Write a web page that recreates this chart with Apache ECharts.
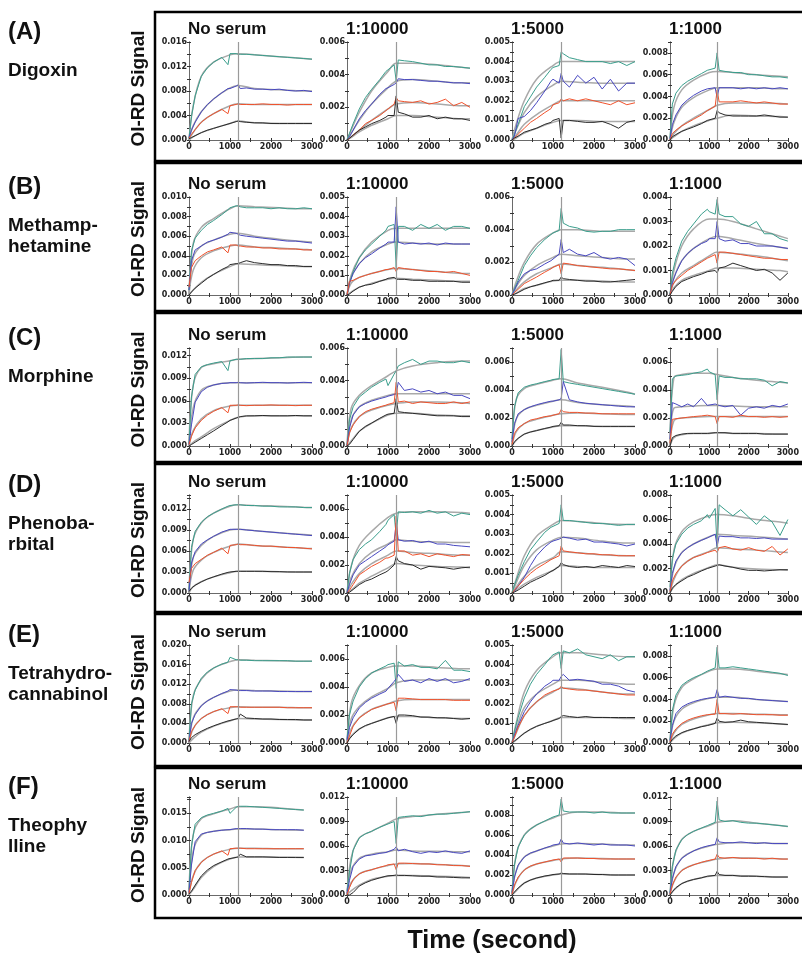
<!DOCTYPE html>
<html>
<head>
<meta charset="utf-8">
<script src="https://cdn.jsdelivr.net/npm/echarts@6/dist/echarts.min.js"></script>
<style>
html, body { margin: 0; padding: 0; background: #fff; }
#main { width: 802px; height: 954px; }
</style>
</head>
<body>
<div id="main"></div>
<script>
// time points (s) of the measured traces and of the fitted curves
var timeData = [0, 60, 150, 300, 450, 600, 800, 950, 1000, 1150, 1200, 1250, 1400, 1600, 1800, 2000, 2200, 2400, 2600, 2800, 3000];
var timeFit = [0, 100, 300, 600, 1000, 1200, 1600, 2200, 2800, 3000];

var dilutions = ['No serum', '1:10000', '1:5000', '1:1000'];
var letters = ['(A)', '(B)', '(C)', '(D)', '(E)', '(F)'];
var drugNames = [['Digoxin'], ['Methamp-', 'hetamine'], ['Morphine'], ['Phenoba-', 'rbital'], ['Tetrahydro-', 'cannabinol'], ['Theophy', 'lline']];

// y range per panel, in units of 0.001
var yMax = [[16, 6, 5, 9], [10, 5, 6, 4], [13, 6, 7, 7], [14, 7, 5, 8], [20, 7, 5, 9], [18, 12, 9.8, 12]];
var yStep = [[4, 2, 1, 2], [2, 1, 2, 1], [3, 2, 2, 2], [3, 2, 1, 2], [4, 2, 1, 2], [5, 3, 2, 3]];

// signal x 1000, order: teal, blue, red, black
var A1 = [
  [0.3, 3.8, 7.2, 10.4, 11.8, 12.7, 13.5, 12.3, 14.1, 14.1, 14.0, 14.0, 14.0, 13.9, 13.8, 13.7, 13.6, 13.5, 13.4, 13.3, 13.2],
  [0.4, 1.6, 2.9, 4.6, 5.8, 6.7, 7.7, 8.4, 8.4, 8.8, 9.0, 8.4, 8.5, 8.3, 8.3, 8.2, 8.3, 8.1, 8.0, 8.1, 7.9],
  [0.3, 0.9, 1.7, 2.9, 3.7, 4.3, 5.0, 4.3, 5.6, 5.8, 5.9, 5.8, 5.8, 5.8, 5.9, 5.8, 5.8, 5.7, 5.8, 5.8, 5.8],
  [0.2, 0.4, 0.7, 1.2, 1.6, 1.9, 2.3, 2.6, 2.7, 3.0, 3.1, 3.0, 2.9, 2.8, 2.8, 2.7, 2.7, 2.7, 2.7, 2.7, 2.7]
];
var A1fit = [
  [0, 5.5, 10.4, 12.7, 13.9, 14.1, 13.9, 13.6, 13.3, 13.2],
  [0, 2.3, 4.6, 6.7, 8.5, 8.9, 8.4, 8.2, 8.0, 8.0],
  [0, 1.2, 2.9, 4.3, 5.6, 5.9, 5.8, 5.8, 5.8, 5.8],
  [0, 0.5, 1.2, 1.9, 2.7, 3.1, 2.8, 2.7, 2.7, 2.7]
];
var A2 = [
  [0, 0.4, 1.0, 1.9, 2.6, 3.1, 3.7, 4.2, 4.3, 4.6, 3.6, 4.9, 4.85, 4.8, 4.7, 4.6, 4.6, 4.5, 4.5, 4.45, 4.4],
  [0, 0.2, 0.6, 1.3, 1.8, 2.2, 2.8, 3.15, 3.2, 3.4, 3.5, 3.75, 3.7, 3.7, 3.65, 3.6, 3.6, 3.55, 3.5, 3.5, 3.45],
  [0, 0.1, 0.3, 0.6, 1.0, 1.2, 1.5, 1.8, 1.9, 2.2, 2.6, 2.4, 2.35, 2.3, 2.4, 2.2, 2.3, 2.5, 2.1, 2.3, 2.0],
  [0, 0.1, 0.3, 0.6, 0.8, 1.0, 1.2, 1.4, 1.5, 1.5, 2.7, 1.7, 1.6, 1.4, 1.4, 1.5, 1.3, 1.4, 1.3, 1.3, 1.2]
];
var A2fit = [
  [0, 0.6, 1.7, 3.0, 4.2, 4.7, 4.7, 4.6, 4.45, 4.4],
  [0, 0.4, 1.2, 2.2, 3.2, 3.6, 3.7, 3.6, 3.5, 3.5],
  [0, 0.2, 0.6, 1.2, 1.9, 2.2, 2.3, 2.2, 2.1, 2.1],
  [0, 0.15, 0.5, 0.9, 1.3, 1.5, 1.5, 1.4, 1.3, 1.3]
];
var A3 = [
  [0, 0.3, 0.8, 1.7, 2.2, 2.7, 3.2, 3.6, 3.7, 3.8, 4.5, 4.4, 4.2, 4.1, 4.0, 4.0, 4.0, 3.9, 4.0, 3.8, 4.0],
  [0, 0.2, 1.1, 1.2, 1.5, 1.9, 2.5, 3.0, 3.1, 2.9, 3.4, 3.0, 2.7, 3.3, 2.9, 3.2, 2.6, 3.1, 2.5, 2.9, 2.9],
  [0, 0.1, 0.3, 0.6, 0.9, 1.1, 1.4, 1.6, 1.8, 1.9, 2.1, 2.0, 2.1, 2.0, 2.1, 2.0, 1.9, 1.8, 2.0, 1.8, 1.9],
  [0, 0.1, 0.2, 0.4, 0.5, 0.6, 0.8, 0.9, 1.0, 1.1, 0.1, 1.0, 1.0, 0.95, 0.9, 0.9, 0.95, 0.8, 0.6, 0.9, 1.0]
];
var A3fit = [
  [0, 0.8, 2.0, 3.1, 3.8, 4.0, 4.0, 4.0, 4.0, 4.0],
  [0, 0.5, 1.4, 2.2, 2.8, 3.0, 2.95, 2.9, 2.9, 2.9],
  [0, 0.25, 0.8, 1.3, 1.8, 2.0, 2.0, 2.0, 2.0, 2.0],
  [0, 0.1, 0.35, 0.6, 0.9, 1.0, 1.0, 0.95, 0.95, 0.95]
];
var A4 = [
  [0.2, 3.3, 4.3, 5.0, 5.4, 5.7, 6.1, 6.4, 6.5, 6.6, 8.0, 6.4, 6.3, 6.2, 6.2, 6.0, 6.0, 5.9, 5.8, 5.8, 5.7],
  [0.1, 1.4, 2.3, 3.2, 3.7, 4.1, 4.5, 4.7, 4.8, 4.8, 3.9, 4.8, 4.8, 4.8, 4.7, 4.8, 4.7, 4.8, 4.7, 4.8, 4.7],
  [0, 0.6, 0.9, 1.3, 1.6, 1.9, 2.3, 2.7, 2.8, 3.1, 4.6, 3.5, 3.5, 3.5, 3.6, 3.5, 3.4, 3.5, 3.4, 3.3, 3.3],
  [0, 0.3, 0.5, 0.8, 1.0, 1.2, 1.5, 1.8, 1.9, 2.0, 2.7, 2.5, 2.3, 2.2, 2.2, 2.2, 2.2, 2.3, 2.2, 2.1, 2.1]
];
var A4fit = [
  [0, 3.0, 4.6, 5.5, 6.2, 6.3, 6.2, 6.0, 5.85, 5.8],
  [0, 1.6, 3.0, 3.9, 4.6, 4.8, 4.8, 4.8, 4.7, 4.7],
  [0, 0.6, 1.3, 2.0, 2.8, 3.2, 3.4, 3.4, 3.35, 3.3],
  [0, 0.3, 0.8, 1.3, 1.8, 2.0, 2.3, 2.2, 2.15, 2.1]
];

var B1 = [
  [0.5, 4.5, 5.8, 6.6, 7.2, 7.6, 8.2, 8.7, 8.9, 9.1, 9.1, 9.0, 8.9, 8.9, 8.9, 8.8, 8.9, 8.8, 8.8, 8.9, 8.8],
  [0.5, 3.5, 4.6, 5.0, 5.4, 5.6, 5.9, 6.2, 6.4, 6.3, 6.2, 6.1, 6.0, 5.9, 5.8, 5.7, 5.6, 5.5, 5.5, 5.4, 5.3],
  [0.8, 2.8, 3.5, 4.0, 4.4, 4.6, 4.9, 4.3, 5.1, 5.1, 5.0, 5.0, 4.9, 4.9, 4.8, 4.8, 4.7, 4.7, 4.7, 4.6, 4.6],
  [0, 0.3, 0.7, 1.2, 1.7, 2.1, 2.6, 2.9, 3.1, 3.2, 3.2, 3.3, 3.5, 3.3, 3.2, 3.1, 3.1, 3.0, 3.0, 2.9, 2.9]
];
var B1fit = [
  [0, 5.2, 6.9, 7.8, 8.8, 9.1, 9.0, 8.9, 8.8, 8.8],
  [0, 3.8, 5.0, 5.6, 6.2, 6.3, 6.0, 5.7, 5.45, 5.4],
  [0, 2.5, 3.8, 4.5, 5.0, 5.1, 4.9, 4.8, 4.65, 4.6],
  [0, 0.5, 1.3, 2.1, 2.9, 3.2, 3.1, 3.0, 2.9, 2.9]
];
var B2 = [
  [0, 0.6, 1.2, 1.9, 2.3, 2.6, 3.0, 3.3, 3.5, 3.6, 1.4, 3.5, 3.5, 3.3, 3.6, 3.4, 3.6, 3.3, 3.5, 3.5, 3.4],
  [0, 0.6, 1.1, 1.6, 1.9, 2.1, 2.4, 2.6, 2.7, 2.7, 4.5, 2.7, 2.6, 2.65, 2.6, 2.65, 2.55, 2.65, 2.6, 2.6, 2.6],
  [0, 0.7, 0.75, 0.9, 1.0, 1.1, 1.2, 1.3, 1.3, 1.4, 1.2, 1.4, 1.35, 1.3, 1.25, 1.2, 1.2, 1.15, 1.2, 1.1, 1.0],
  [0, 0.05, 0.2, 0.4, 0.5, 0.55, 0.7, 0.8, 0.85, 0.9, 0.8, 0.8, 0.8, 0.75, 0.75, 0.7, 0.7, 0.7, 0.7, 0.65, 0.65]
];
var B2fit = [
  [0, 1.0, 1.9, 2.7, 3.3, 3.4, 3.4, 3.4, 3.4, 3.4],
  [0, 0.9, 1.6, 2.2, 2.6, 2.7, 2.65, 2.6, 2.6, 2.6],
  [0, 0.6, 0.9, 1.1, 1.3, 1.35, 1.3, 1.2, 1.1, 1.1],
  [0, 0.15, 0.4, 0.6, 0.8, 0.85, 0.8, 0.75, 0.7, 0.7]
];
var B3 = [
  [0, 0.4, 0.9, 1.8, 2.4, 2.9, 3.4, 3.7, 3.8, 3.95, 5.3, 4.4, 4.2, 4.1, 3.9, 3.85, 3.9, 3.9, 4.0, 4.0, 4.0],
  [0, 0.3, 0.8, 1.3, 1.5, 1.6, 1.9, 2.1, 2.2, 2.5, 3.4, 2.6, 2.8, 2.5, 2.4, 2.6, 2.3, 2.2, 2.3, 2.2, 1.8],
  [0, 0.15, 0.35, 0.7, 0.9, 1.1, 1.4, 1.6, 1.7, 1.85, 1.3, 1.95, 1.9, 1.8, 1.75, 1.7, 1.65, 1.6, 1.6, 1.55, 1.5],
  [0, 0.05, 0.15, 0.35, 0.5, 0.6, 0.75, 0.85, 0.9, 0.9, 1.1, 1.0, 0.95, 0.9, 0.85, 0.85, 0.8, 0.8, 0.85, 0.9, 0.95]
];
var B3fit = [
  [0, 0.8, 2.0, 3.1, 3.8, 4.0, 4.0, 3.9, 3.9, 3.9],
  [0, 0.5, 1.2, 1.8, 2.3, 2.5, 2.4, 2.3, 2.2, 2.2],
  [0, 0.3, 0.8, 1.3, 1.7, 1.9, 1.8, 1.7, 1.55, 1.5],
  [0, 0.1, 0.4, 0.6, 0.85, 0.9, 0.9, 0.85, 0.8, 0.8]
];
var B4 = [
  [0, 0.9, 1.5, 2.2, 2.6, 2.9, 3.3, 3.5, 3.4, 3.3, 3.9, 3.3, 3.2, 3.2, 2.9, 2.8, 3.0, 2.5, 2.5, 2.3, 2.2],
  [0, 0.5, 0.9, 1.4, 1.7, 1.9, 2.1, 2.2, 2.3, 2.3, 3.0, 2.3, 2.2, 2.25, 2.1, 2.1, 2.0, 2.0, 2.0, 1.95, 1.9],
  [0, 0.4, 0.6, 0.8, 1.0, 1.15, 1.35, 1.5, 1.55, 1.65, 1.3, 1.75, 1.75, 1.7, 1.65, 1.6, 1.55, 1.5, 1.5, 1.45, 1.45],
  [0, 0.15, 0.35, 0.55, 0.65, 0.75, 0.85, 0.95, 1.0, 1.0, 0.9, 1.1, 1.15, 1.3, 1.2, 1.1, 1.0, 1.05, 0.9, 0.6, 0.9]
];
var B4fit = [
  [0, 1.0, 2.0, 2.7, 3.1, 3.1, 3.0, 2.7, 2.4, 2.3],
  [0, 0.7, 1.4, 1.9, 2.3, 2.4, 2.3, 2.1, 1.95, 1.9],
  [0, 0.5, 0.9, 1.2, 1.6, 1.75, 1.7, 1.6, 1.45, 1.4],
  [0, 0.3, 0.6, 0.8, 1.0, 1.1, 1.1, 1.05, 1.0, 0.95]
];

var C1 = [
  [0.3, 6.5, 9.5, 10.5, 10.8, 11.0, 11.2, 10.0, 11.3, 11.5, 11.5, 11.5, 11.6, 11.6, 11.6, 11.7, 11.7, 11.8, 11.8, 11.8, 11.8],
  [0.2, 2.8, 5.8, 7.2, 7.8, 8.1, 8.3, 8.35, 8.4, 8.4, 8.45, 8.4, 8.35, 8.4, 8.45, 8.4, 8.4, 8.35, 8.4, 8.45, 8.4],
  [0.2, 1.3, 2.4, 3.4, 4.1, 4.6, 5.1, 4.4, 5.4, 5.4, 5.45, 5.4, 5.35, 5.4, 5.4, 5.45, 5.4, 5.4, 5.35, 5.4, 5.4],
  [0, 0.2, 0.5, 1.0, 1.5, 2.0, 2.7, 3.2, 3.4, 3.7, 3.8, 3.9, 4.0, 4.0, 4.05, 4.0, 4.0, 4.0, 4.05, 4.0, 4.0]
];
var C1fit = [
  [0, 8.0, 10.4, 10.9, 11.3, 11.5, 11.6, 11.7, 11.8, 11.8],
  [0, 5.0, 7.4, 8.1, 8.4, 8.4, 8.4, 8.4, 8.4, 8.4],
  [0, 2.0, 3.6, 4.7, 5.3, 5.4, 5.4, 5.4, 5.4, 5.4],
  [0, 0.5, 1.2, 2.3, 3.4, 3.8, 4.0, 4.0, 4.0, 4.0]
];
var C2 = [
  [0, 1.6, 2.4, 3.0, 3.3, 3.6, 3.9, 4.1, 3.7, 4.4, 4.6, 4.9, 5.1, 5.3, 5.0, 5.2, 5.2, 5.1, 5.1, 5.2, 5.1],
  [0, 1.1, 1.9, 2.4, 2.6, 2.75, 2.9, 3.0, 3.05, 3.15, 3.2, 3.9, 3.4, 3.5, 3.3, 3.4, 3.2, 3.3, 3.1, 3.1, 2.9],
  [0, 0.8, 1.3, 1.8, 2.1, 2.25, 2.4, 2.5, 2.55, 2.65, 3.9, 2.7, 2.75, 2.6, 2.7, 2.65, 2.6, 2.6, 2.7, 2.6, 2.7],
  [0, 0.1, 0.4, 0.9, 1.2, 1.4, 1.7, 1.9, 1.95, 2.0, 2.9, 2.1, 2.05, 2.0, 1.95, 1.9, 1.85, 1.85, 1.85, 1.8, 1.8]
];
var C2fit = [
  [0, 2.3, 3.1, 3.7, 4.3, 4.6, 4.9, 5.1, 5.2, 5.2],
  [0, 1.6, 2.4, 2.8, 3.1, 3.2, 3.2, 3.2, 3.2, 3.2],
  [0, 1.1, 1.8, 2.2, 2.5, 2.6, 2.7, 2.7, 2.65, 2.6],
  [0, 0.3, 0.9, 1.4, 1.9, 2.0, 2.0, 1.9, 1.85, 1.85]
];
var C3 = [
  [0.5, 2.8, 3.8, 4.2, 4.35, 4.45, 4.6, 4.7, 4.75, 4.8, 6.9, 4.6, 4.5, 4.4, 4.3, 4.2, 4.1, 4.0, 3.9, 3.8, 3.7],
  [0.3, 1.6, 2.3, 2.6, 2.8, 2.95, 3.1, 3.2, 3.2, 3.3, 3.4, 4.6, 3.3, 3.15, 3.05, 3.0, 2.95, 2.9, 2.85, 2.8, 2.8],
  [0.1, 0.9, 1.3, 1.6, 1.85, 1.95, 2.1, 2.15, 2.2, 2.3, 2.6, 2.45, 2.4, 2.4, 2.35, 2.35, 2.3, 2.3, 2.3, 2.3, 2.3],
  [0, 0.3, 0.55, 0.85, 1.0, 1.1, 1.25, 1.35, 1.4, 1.45, 1.7, 1.5, 1.5, 1.45, 1.45, 1.4, 1.4, 1.4, 1.4, 1.4, 1.4]
];
var C3fit = [
  [0, 3.3, 4.1, 4.4, 4.7, 4.8, 4.5, 4.2, 3.85, 3.7],
  [0, 1.9, 2.6, 2.9, 3.2, 3.3, 3.1, 2.95, 2.85, 2.8],
  [0, 1.0, 1.6, 1.9, 2.2, 2.3, 2.35, 2.3, 2.25, 2.25],
  [0, 0.4, 0.85, 1.1, 1.35, 1.45, 1.45, 1.4, 1.4, 1.4]
];
var C4 = [
  [1.0, 4.8, 5.0, 5.05, 5.1, 5.2, 5.3, 5.5, 5.3, 5.1, 3.3, 5.0, 4.9, 4.9, 4.8, 4.8, 4.8, 4.7, 4.3, 4.6, 4.5],
  [0.5, 3.1, 3.0, 2.8, 3.0, 2.8, 3.4, 2.9, 3.0, 3.0, 2.9, 2.9, 2.8, 2.9, 2.2, 2.7, 2.8, 2.7, 2.9, 2.8, 3.0],
  [0.2, 1.9, 1.95, 2.0, 2.05, 2.1, 2.15, 2.2, 2.15, 2.1, 1.6, 2.1, 2.1, 2.05, 2.2, 2.1, 2.1, 2.05, 2.1, 2.05, 2.1],
  [0, 0.6, 0.75, 0.85, 0.9, 0.9, 0.9, 0.9, 0.9, 0.95, 1.0, 0.95, 0.95, 0.9, 0.9, 0.9, 0.9, 0.85, 0.85, 0.85, 0.85]
];
var C4fit = [
  [0, 4.9, 5.1, 5.2, 5.2, 5.1, 4.9, 4.7, 4.55, 4.5],
  [0, 2.7, 2.8, 2.85, 2.9, 2.9, 2.85, 2.8, 2.8, 2.8],
  [0, 1.8, 2.0, 2.05, 2.1, 2.1, 2.1, 2.1, 2.1, 2.1],
  [0, 0.6, 0.8, 0.9, 0.9, 0.95, 0.9, 0.9, 0.85, 0.85]
];

var D1 = [
  [0.5, 6.5, 8.8, 10.1, 10.9, 11.4, 12.0, 12.4, 12.5, 12.6, 12.6, 12.6, 12.5, 12.5, 12.4, 12.4, 12.3, 12.3, 12.3, 12.2, 12.2],
  [0.3, 4.3, 5.9, 7.0, 7.6, 8.1, 8.7, 9.0, 9.1, 9.1, 9.1, 9.1, 9.0, 8.9, 8.8, 8.7, 8.6, 8.5, 8.4, 8.3, 8.2],
  [1.5, 3.5, 4.2, 4.8, 5.4, 5.8, 6.4, 5.6, 6.8, 6.9, 7.0, 6.9, 6.9, 6.8, 6.7, 6.7, 6.6, 6.5, 6.5, 6.4, 6.3],
  [0.2, 0.7, 1.1, 1.6, 2.0, 2.3, 2.7, 2.95, 3.0, 3.1, 3.1, 3.1, 3.1, 3.1, 3.1, 3.05, 3.05, 3.0, 3.0, 3.0, 3.0]
];
var D1fit = [
  [0, 7.6, 10.0, 11.4, 12.4, 12.6, 12.5, 12.4, 12.25, 12.2],
  [0, 5.0, 6.8, 8.1, 9.0, 9.1, 8.9, 8.6, 8.35, 8.3],
  [0, 3.2, 4.7, 5.8, 6.7, 7.0, 6.8, 6.6, 6.4, 6.35],
  [0, 0.9, 1.6, 2.3, 2.9, 3.1, 3.1, 3.05, 3.0, 3.0]
];
var D2 = [
  [0, 1.4, 2.4, 3.1, 3.5, 3.8, 4.4, 4.9, 5.2, 5.6, 4.1, 5.8, 5.75, 5.8, 5.7, 5.9, 5.7, 5.8, 5.5, 5.7, 5.6],
  [0, 0.6, 1.3, 2.0, 2.3, 2.6, 3.0, 3.3, 3.45, 3.7, 5.0, 3.8, 3.7, 3.75, 3.6, 3.7, 3.5, 3.5, 3.4, 3.35, 3.3],
  [0, 0.2, 0.6, 1.3, 1.6, 1.9, 2.2, 2.5, 2.5, 2.7, 5.5, 3.0, 3.0, 2.7, 2.8, 2.6, 2.8, 2.7, 2.6, 2.75, 2.7],
  [0, 0.05, 0.25, 0.6, 0.85, 1.0, 1.3, 1.5, 1.6, 2.0, 2.6, 2.3, 2.1, 2.0, 1.7, 1.9, 1.85, 1.8, 1.7, 1.8, 1.85]
];
var D2fit = [
  [0, 1.9, 3.4, 4.4, 5.4, 5.7, 5.8, 5.8, 5.75, 5.7],
  [0, 1.1, 2.1, 2.9, 3.5, 3.8, 3.7, 3.65, 3.6, 3.6],
  [0, 0.6, 1.4, 2.1, 2.7, 3.0, 2.9, 2.8, 2.7, 2.7],
  [0, 0.2, 0.7, 1.2, 1.8, 2.1, 2.0, 1.9, 1.85, 1.8]
];
var D3 = [
  [0, 0.4, 0.9, 1.6, 2.2, 2.6, 3.1, 3.35, 3.4, 3.55, 4.5, 3.7, 3.7, 3.65, 3.6, 3.55, 3.55, 3.5, 3.45, 3.5, 3.5],
  [0, 0.1, 0.35, 0.8, 1.4, 1.9, 2.35, 2.6, 2.65, 2.75, 2.8, 2.85, 2.8, 2.7, 2.75, 2.6, 2.6, 2.55, 2.5, 2.4, 2.5],
  [0, 0.15, 0.35, 0.7, 1.0, 1.25, 1.5, 1.7, 1.75, 1.9, 2.4, 2.15, 2.1, 2.05, 2.0, 2.0, 1.95, 1.95, 1.9, 1.9, 1.9],
  [0, 0.05, 0.15, 0.35, 0.55, 0.7, 0.9, 1.1, 1.15, 1.35, 1.55, 1.45, 1.35, 1.3, 1.35, 1.3, 1.4, 1.35, 1.3, 1.4, 1.35]
];
var D3fit = [
  [0, 0.7, 1.9, 2.9, 3.5, 3.7, 3.65, 3.55, 3.5, 3.5],
  [0, 0.5, 1.4, 2.2, 2.7, 2.85, 2.8, 2.65, 2.55, 2.55],
  [0, 0.3, 0.85, 1.4, 1.8, 2.1, 2.05, 1.95, 1.9, 1.9],
  [0, 0.15, 0.45, 0.8, 1.15, 1.4, 1.35, 1.3, 1.3, 1.3]
];
var D4 = [
  [0.5, 2.8, 4.0, 4.8, 5.3, 5.6, 5.9, 6.4, 6.1, 6.9, 3.7, 7.2, 6.8, 6.3, 6.8, 6.2, 5.6, 6.3, 5.8, 4.7, 6.0],
  [0.2, 1.6, 2.6, 3.3, 3.7, 4.0, 4.3, 4.5, 4.6, 4.8, 3.8, 4.65, 4.6, 4.6, 4.5, 4.5, 4.45, 4.5, 4.4, 4.4, 4.4],
  [0.1, 1.0, 1.6, 2.2, 2.6, 2.9, 3.1, 3.3, 3.4, 3.5, 3.3, 3.7, 3.8, 3.6, 3.5, 3.7, 3.5, 3.4, 3.8, 3.1, 3.6],
  [0, 0.4, 0.7, 1.0, 1.3, 1.5, 1.8, 2.0, 2.0, 2.2, 2.35, 2.3, 2.2, 2.1, 1.95, 1.85, 1.85, 1.8, 1.85, 1.9, 1.9]
];
var D4fit = [
  [0, 3.5, 5.0, 5.8, 6.3, 6.4, 6.3, 6.0, 5.8, 5.7],
  [0, 2.0, 3.3, 4.0, 4.6, 4.8, 4.7, 4.6, 4.45, 4.4],
  [0, 1.1, 2.2, 2.9, 3.4, 3.7, 3.6, 3.5, 3.35, 3.3],
  [0, 0.5, 1.1, 1.6, 2.1, 2.3, 2.1, 1.95, 1.9, 1.85]
];

var E1 = [
  [0.5, 8.0, 10.8, 13.2, 14.5, 15.3, 16.1, 16.5, 17.5, 17.0, 17.0, 16.9, 16.9, 16.8, 16.8, 16.8, 16.8, 16.8, 16.7, 16.7, 16.7],
  [0.3, 4.0, 5.8, 7.6, 8.6, 9.3, 10.1, 10.6, 10.9, 10.8, 10.7, 10.7, 10.7, 10.6, 10.6, 10.6, 10.5, 10.5, 10.5, 10.5, 10.5],
  [0.3, 2.3, 3.6, 5.0, 5.8, 6.4, 7.0, 6.0, 7.4, 7.4, 7.4, 7.3, 7.3, 7.3, 7.3, 7.3, 7.3, 7.2, 7.2, 7.2, 7.2],
  [0.3, 1.1, 1.7, 2.4, 3.0, 3.5, 4.1, 4.5, 4.6, 4.9, 5.0, 5.9, 5.1, 5.0, 4.9, 4.9, 4.8, 4.8, 4.8, 4.7, 4.7]
];
var E1fit = [
  [0, 9.5, 13.0, 15.3, 16.6, 17.0, 16.9, 16.8, 16.7, 16.7],
  [0, 5.0, 7.6, 9.3, 10.6, 10.8, 10.7, 10.6, 10.5, 10.5],
  [0, 2.9, 5.0, 6.4, 7.2, 7.4, 7.3, 7.3, 7.2, 7.2],
  [0, 0.9, 2.2, 3.4, 4.5, 5.0, 4.9, 4.8, 4.7, 4.7]
];
var E2 = [
  [0.3, 2.0, 3.0, 4.0, 4.6, 5.0, 5.3, 5.5, 5.6, 5.7, 3.9, 5.8, 5.5, 5.6, 5.4, 5.4, 5.3, 5.9, 5.2, 5.2, 5.1],
  [0.2, 1.1, 1.8, 2.5, 2.9, 3.2, 3.5, 3.7, 3.9, 4.4, 4.6, 4.9, 4.4, 4.5, 4.3, 4.6, 4.4, 4.6, 4.3, 4.4, 4.6],
  [0, 0.5, 1.2, 1.8, 2.1, 2.4, 2.6, 2.75, 2.8, 2.9, 2.3, 3.2, 3.2, 3.15, 3.1, 3.1, 3.1, 3.1, 3.05, 3.05, 3.05],
  [0, 0.3, 0.6, 1.0, 1.25, 1.4, 1.6, 1.75, 1.8, 1.9, 1.4, 2.0, 2.0, 1.95, 1.85, 1.85, 1.8, 1.8, 1.75, 1.7, 1.75]
];
var E2fit = [
  [0, 2.8, 4.1, 5.0, 5.4, 5.5, 5.5, 5.4, 5.3, 5.3],
  [0, 1.7, 2.6, 3.3, 3.9, 4.3, 4.5, 4.5, 4.5, 4.5],
  [0, 1.0, 1.8, 2.4, 2.8, 3.0, 3.1, 3.1, 3.1, 3.1],
  [0, 0.5, 1.0, 1.4, 1.8, 1.9, 1.9, 1.8, 1.75, 1.75]
];
var E3 = [
  [0, 0.6, 1.3, 2.3, 3.0, 3.5, 4.0, 4.4, 4.5, 4.65, 3.8, 4.7, 4.6, 4.8, 4.5, 4.4, 4.3, 4.5, 4.2, 4.4, 4.4],
  [0, 0.4, 0.9, 1.6, 2.1, 2.5, 2.9, 3.1, 3.2, 3.2, 3.4, 3.5, 3.2, 3.25, 3.2, 3.15, 3.0, 3.0, 2.9, 2.7, 2.6],
  [0, 0.3, 0.8, 1.4, 1.8, 2.1, 2.45, 2.6, 2.65, 2.75, 2.9, 2.8, 2.75, 2.7, 2.7, 2.65, 2.6, 2.55, 2.5, 2.45, 2.45],
  [0, 0.1, 0.25, 0.5, 0.7, 0.85, 1.0, 1.1, 1.15, 1.25, 1.35, 1.4, 1.35, 1.3, 1.35, 1.3, 1.3, 1.3, 1.3, 1.3, 1.3]
];
var E3fit = [
  [0, 1.0, 2.6, 3.7, 4.4, 4.6, 4.6, 4.5, 4.4, 4.4],
  [0, 0.7, 1.8, 2.5, 3.0, 3.2, 3.2, 3.1, 3.0, 3.0],
  [0, 0.5, 1.4, 2.1, 2.6, 2.8, 2.75, 2.6, 2.5, 2.5],
  [0, 0.15, 0.5, 0.85, 1.15, 1.3, 1.3, 1.3, 1.25, 1.25]
];
var E4 = [
  [0.3, 3.0, 4.4, 5.3, 5.7, 6.0, 6.3, 6.6, 6.7, 6.9, 8.8, 6.9, 6.9, 7.0, 6.9, 6.8, 6.7, 6.6, 6.5, 6.4, 6.2],
  [0.2, 1.6, 2.7, 3.3, 3.6, 3.8, 4.0, 4.1, 4.15, 4.2, 4.9, 4.2, 4.3, 4.2, 4.1, 4.1, 4.0, 3.95, 3.9, 3.85, 3.8],
  [0.1, 0.8, 1.3, 1.8, 2.1, 2.3, 2.5, 2.6, 2.6, 2.65, 4.0, 2.7, 2.7, 2.65, 2.7, 2.65, 2.6, 2.6, 2.6, 2.55, 2.55],
  [0, 0.35, 0.65, 0.95, 1.15, 1.3, 1.5, 1.6, 1.65, 1.8, 2.3, 2.0, 1.9, 1.95, 2.1, 1.95, 1.9, 1.85, 1.8, 1.75, 1.7]
];
var E4fit = [
  [0, 3.4, 5.1, 5.9, 6.6, 6.8, 6.8, 6.6, 6.35, 6.3],
  [0, 2.0, 3.1, 3.7, 4.1, 4.2, 4.2, 4.0, 3.85, 3.8],
  [0, 0.9, 1.7, 2.2, 2.6, 2.7, 2.7, 2.65, 2.6, 2.6],
  [0, 0.4, 0.9, 1.3, 1.7, 1.85, 1.9, 1.85, 1.75, 1.7]
];

var F1 = [
  [1.0, 9.0, 13.0, 14.2, 14.7, 15.0, 15.4, 15.9, 15.0, 16.1, 16.3, 16.3, 16.3, 16.2, 16.1, 16.0, 15.9, 15.8, 15.7, 15.6, null],
  [0.5, 5.5, 9.8, 11.2, 11.5, 11.7, 11.9, 12.0, 12.0, 12.2, 12.2, 12.2, 12.2, 12.1, 12.1, 12.0, 12.0, 12.0, 12.0, 11.9, null],
  [0.3, 2.3, 4.5, 6.0, 6.9, 7.5, 8.1, 7.3, 8.5, 8.6, 8.6, 8.6, 8.5, 8.5, 8.5, 8.5, 8.5, 8.5, 8.5, 8.5, null],
  [0.2, 0.7, 1.8, 3.5, 4.6, 5.4, 6.1, 6.6, 6.7, 6.9, 7.0, 7.5, 7.0, 7.0, 7.0, 6.95, 6.9, 6.9, 6.9, 6.9, null]
];
var F1fit = [
  [0, 11.0, 14.0, 14.9, 15.8, 16.2, 16.2, 16.0, 15.6, null],
  [0, 8.0, 11.0, 11.7, 12.0, 12.1, 12.1, 12.0, 11.9, null],
  [0, 3.5, 6.0, 7.5, 8.4, 8.6, 8.6, 8.5, 8.5, null],
  [0, 1.0, 3.2, 5.2, 6.6, 7.0, 7.0, 6.95, 6.9, null]
];
var F2 = [
  [0.5, 2.8, 5.5, 7.0, 7.5, 7.8, 8.3, 8.6, 8.7, 9.0, 6.3, 9.5, 9.6, 9.7, 9.6, 9.8, 9.9, 9.9, 10.0, 10.1, 10.2],
  [0.2, 1.8, 3.5, 4.4, 4.8, 4.9, 5.1, 5.2, 5.3, 5.6, 5.9, 5.4, 5.6, 5.3, 5.1, 5.3, 5.2, 5.4, 5.2, 5.1, 5.4],
  [0, 0.9, 1.9, 2.6, 2.9, 3.1, 3.4, 3.6, 3.7, 3.8, 3.1, 3.9, 3.9, 3.85, 3.8, 3.8, 3.7, 3.7, 3.6, 3.6, 3.5],
  [0, 0, 0.3, 1.1, 1.5, 1.8, 2.1, 2.3, 2.35, 2.4, 2.45, 2.4, 2.4, 2.35, 2.3, 2.3, 2.2, 2.2, 2.15, 2.1, 2.1]
];
var F2fit = [
  [0, 4.5, 7.0, 7.8, 8.8, 9.3, 9.6, 9.9, 10.1, 10.2],
  [0, 3.0, 4.5, 5.0, 5.3, 5.5, 5.4, 5.35, 5.3, 5.3],
  [0, 1.5, 2.6, 3.1, 3.6, 3.8, 3.85, 3.75, 3.6, 3.55],
  [0, 0.5, 1.2, 1.9, 2.3, 2.4, 2.4, 2.3, 2.2, 2.15]
];
var F3 = [
  [0.3, 3.0, 4.8, 6.0, 6.6, 7.0, 7.4, 7.7, 7.8, 8.0, 9.6, 8.4, 8.3, 8.3, 8.3, 8.2, 8.3, 8.2, 8.2, 8.2, 8.2],
  [0.2, 1.8, 3.0, 3.8, 4.2, 4.4, 4.7, 4.9, 5.0, 5.1, 5.6, 5.2, 5.1, 5.2, 5.1, 5.0, 5.1, 5.0, 5.0, 5.0, 4.9],
  [0.1, 1.0, 1.8, 2.5, 2.9, 3.1, 3.3, 3.45, 3.5, 3.6, 3.3, 3.7, 3.7, 3.7, 3.65, 3.65, 3.6, 3.6, 3.6, 3.6, 3.6],
  [0, 0.3, 0.7, 1.2, 1.5, 1.7, 1.9, 2.0, 2.05, 2.1, 2.2, 2.15, 2.1, 2.1, 2.1, 2.05, 2.05, 2.0, 2.0, 2.0, 2.0]
];
var F3fit = [
  [0, 4.0, 6.0, 7.0, 7.7, 8.0, 8.3, 8.3, 8.2, 8.2],
  [0, 2.4, 3.8, 4.4, 4.9, 5.1, 5.15, 5.1, 5.0, 5.0],
  [0, 1.3, 2.5, 3.1, 3.45, 3.6, 3.7, 3.65, 3.6, 3.6],
  [0, 0.4, 1.2, 1.7, 2.0, 2.1, 2.1, 2.05, 2.0, 2.0]
];
var F4 = [
  [0.3, 3.5, 5.5, 6.8, 7.4, 7.8, 8.2, 8.5, 8.7, 8.9, 11.5, 9.2, 9.0, 9.1, 8.9, 8.8, 8.8, 8.7, 8.6, 8.5, 8.4],
  [0.2, 2.0, 3.5, 4.5, 5.0, 5.4, 5.8, 6.0, 6.1, 6.2, 7.0, 6.5, 6.4, 6.4, 6.5, 6.4, 6.3, 6.4, 6.3, 6.3, 6.3],
  [0.1, 1.2, 2.2, 3.0, 3.4, 3.7, 4.0, 4.2, 4.3, 4.4, 5.0, 4.6, 4.5, 4.6, 4.5, 4.5, 4.5, 4.4, 4.5, 4.4, 4.4],
  [0, 0.4, 0.9, 1.4, 1.7, 1.9, 2.1, 2.3, 2.35, 2.4, 2.9, 2.5, 2.4, 2.4, 2.3, 2.3, 2.3, 2.25, 2.2, 2.2, 2.2]
];
var F4fit = [
  [0, 4.5, 6.8, 7.8, 8.5, 8.9, 9.1, 8.8, 8.5, 8.4],
  [0, 2.7, 4.5, 5.4, 6.0, 6.2, 6.4, 6.4, 6.3, 6.3],
  [0, 1.6, 3.0, 3.7, 4.2, 4.4, 4.55, 4.5, 4.45, 4.4],
  [0, 0.6, 1.4, 1.9, 2.3, 2.4, 2.4, 2.3, 2.2, 2.2]
];

var panels = [[A1, A2, A3, A4], [B1, B2, B3, B4], [C1, C2, C3, C4], [D1, D2, D3, D4], [E1, E2, E3, E4], [F1, F2, F3, F4]];
var fits = [[A1fit, A2fit, A3fit, A4fit], [B1fit, B2fit, B3fit, B4fit], [C1fit, C2fit, C3fit, C4fit],
            [D1fit, D2fit, D3fit, D4fit], [E1fit, E2fit, E3fit, E4fit], [F1fit, F2fit, F3fit, F4fit]];

// layout
var panelLeft = [189, 347, 512, 670];
var panelWidth = 123;
var plotTop = [42, 197, 348, 495, 645, 797];
var panelHeight = 98;
var rowBox = [[12, 161], [163, 311], [313, 462], [464, 612], [614, 766], [768, 918]];
var lineColors = ['#3a9e8c', '#4848c0', '#f0522c', '#2a2a2a'];
var fitColor = '#a9a9a9';

function pairs(times, vals) {
    var out = [];
    for (var i = 0; i < times.length; i++) {
        if (vals[i] !== null) out.push([times[i], vals[i]]);
    }
    return out;
}

var dom = document.getElementById('main');
var chart = echarts.init(dom);

var grids = [], xAxes = [], yAxes = [], series = [], titles = [], graphics = [];
var labelFont = 'DejaVu Sans';
var textFont = '"Liberation Sans", Arial, sans-serif';

for (var r = 0; r < 6; r++) {
    for (var c = 0; c < 4; c++) {
        var g = r * 4 + c;
        grids.push({ left: panelLeft[c], top: plotTop[r], width: panelWidth, height: panelHeight });

        var axisLine = { show: true, lineStyle: { color: '#6a6a6a', width: 1 } };
        var tick = { show: true, length: 2, lineStyle: { color: '#333' } };
        var minor = { show: true, splitNumber: 2, length: 2, lineStyle: { color: '#333' } };

        xAxes.push({
            gridIndex: g, type: 'value', position: 'bottom', min: 0, max: 3000, interval: 1000,
            axisLine: axisLine, axisTick: tick, minorTick: minor, splitLine: { show: false },
            axisLabel: {
                fontSize: 8, fontWeight: 'bold', fontFamily: labelFont, color: '#222', margin: 3,
                formatter: function (v) { return String(v); }
            }
        });
        xAxes.push({
            gridIndex: g, type: 'value', position: 'top', min: 0, max: 3000, interval: 1000,
            axisLine: axisLine, axisTick: tick, minorTick: minor, splitLine: { show: false },
            axisLabel: { show: false }
        });

        var ymax = yMax[r][c], ystep = yStep[r][c];
        var onTick = Math.abs(ymax / ystep - Math.round(ymax / ystep)) < 1e-6;
        yAxes.push({
            gridIndex: g, type: 'value', position: 'left', min: 0, max: ymax, interval: ystep,
            axisLine: axisLine, axisTick: tick, minorTick: minor, splitLine: { show: false },
            axisLabel: {
                fontSize: 8, fontWeight: 'bold', fontFamily: labelFont, color: '#222', margin: 2,
                showMaxLabel: onTick,
                formatter: function (v) { return (v / 1000).toFixed(3); }
            }
        });
        yAxes.push({
            gridIndex: g, type: 'value', position: 'right', min: 0, max: ymax, interval: ystep,
            axisLine: axisLine, axisTick: tick, minorTick: minor, splitLine: { show: false },
            axisLabel: { show: false }
        });

        for (var k = 0; k < 4; k++) {
            series.push({
                type: 'line', xAxisIndex: 2 * g, yAxisIndex: 2 * g,
                data: pairs(timeFit, fits[r][c][k]),
                smooth: 0.35, showSymbol: false, silent: true,
                lineStyle: { color: fitColor, width: 1.5 }, z: 2
            });
        }
        for (var k = 0; k < 4; k++) {
            var s = {
                type: 'line', xAxisIndex: 2 * g, yAxisIndex: 2 * g,
                data: pairs(timeData, panels[r][c][k]),
                showSymbol: false, silent: true,
                lineStyle: { color: lineColors[k], width: 1 }, z: 3
            };
            if (k === 0) {
                s.markLine = {
                    silent: true, symbol: 'none', animation: false,
                    label: { show: false },
                    lineStyle: { color: '#9a9a9a', width: 1.2, type: 'solid' },
                    data: [{ xAxis: 1200 }]
                };
            }
            series.push(s);
        }

        titles.push({
            text: dilutions[c], left: panelLeft[c] - 1, top: plotTop[r] - 21, padding: 0,
            textStyle: { fontSize: 17, fontWeight: 'bold', fontFamily: textFont, color: '#111' }
        });
    }

    // row frame and left-hand labels
    graphics.push({
        type: 'rect', silent: true,
        shape: { x: 155, y: rowBox[r][0], width: 700, height: rowBox[r][1] - rowBox[r][0] },
        style: { fill: 'none', stroke: '#000', lineWidth: 2.5 }
    });
    graphics.push({
        type: 'text', silent: true, x: 8, y: plotTop[r] - 10,
        style: { text: letters[r], font: 'bold 24px ' + textFont, fill: '#111', textAlign: 'left', textVerticalAlign: 'middle' }
    });
    for (var j = 0; j < drugNames[r].length; j++) {
        graphics.push({
            type: 'text', silent: true, x: 8, y: plotTop[r] + 29 + 21 * j,
            style: { text: drugNames[r][j], font: 'bold 19px ' + textFont, fill: '#111', textAlign: 'left', textVerticalAlign: 'middle' }
        });
    }
    graphics.push({
        type: 'text', silent: true, x: 139, y: (rowBox[r][0] + rowBox[r][1]) / 2 + 2, rotation: Math.PI / 2,
        style: { text: 'OI-RD Signal', font: 'bold 19px ' + textFont, fill: '#111', textAlign: 'center', textVerticalAlign: 'middle' }
    });
}

graphics.push({
    type: 'text', silent: true, x: 492, y: 941,
    style: { text: 'Time (second)', font: 'bold 25px ' + textFont, fill: '#111', textAlign: 'center', textVerticalAlign: 'middle' }
});

var option = {
    backgroundColor: '#fff',
    animation: false,
    title: titles,
    grid: grids,
    xAxis: xAxes,
    yAxis: yAxes,
    series: series,
    graphic: graphics
};
chart.setOption(option);
</script>
</body>
</html>
